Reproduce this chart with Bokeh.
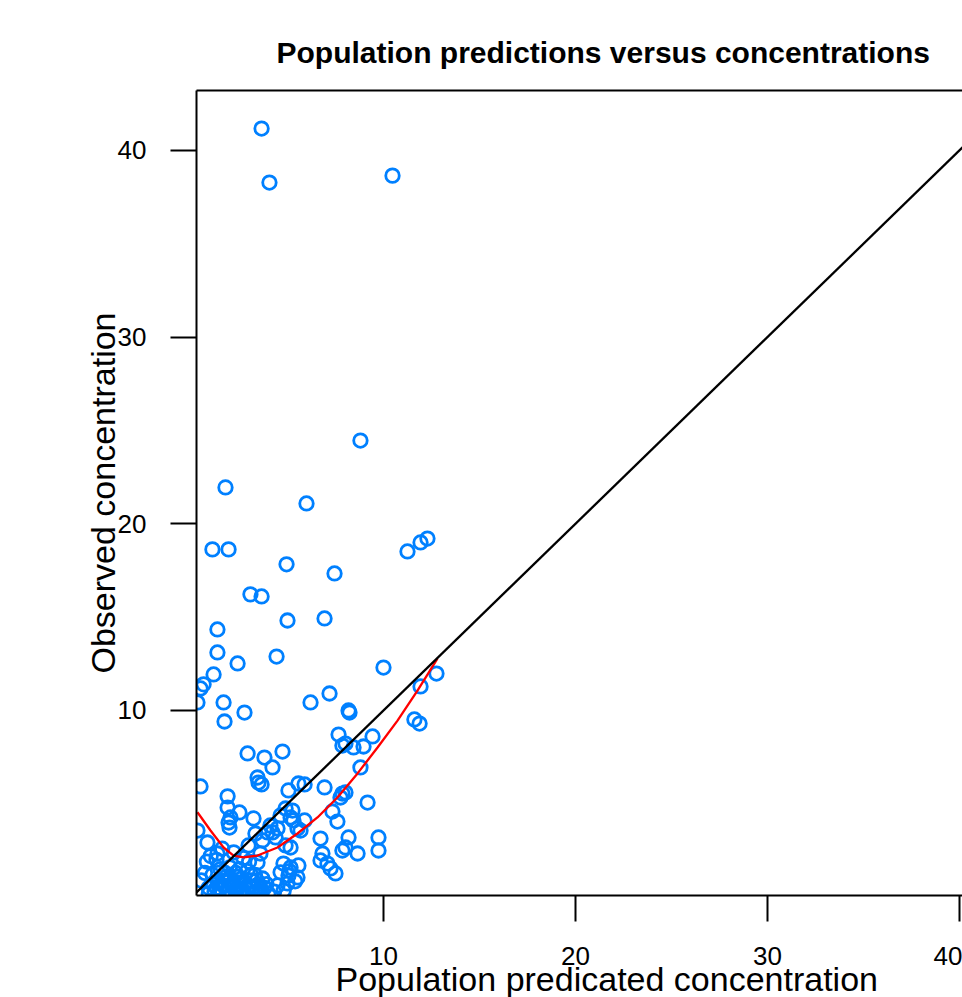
from bokeh.plotting import figure
from bokeh.models import Range1d, FixedTicker, LinearAxis, Slope, Title
from bokeh.embed import file_html
from bokeh.resources import INLINE

# Population predicted concentration (x) and observed concentration (y)
pred = [3.65, 4.06, 10.47, 8.80, 1.77, 5.99, 1.09, 1.93, 4.95, 7.45, 3.07, 3.65, 1.35, 5.00,
        6.93, 1.35, 2.40, 4.43, 1.15, 0.63, 0.47, 0.31, 1.67, 2.76, 1.72, 6.20, 7.19, 8.18,
        8.23, 10.00, 11.25, 11.93, 12.29, 11.93, 12.76, 11.61, 11.88,
        7.66, 7.86, 8.02, 8.44, 8.96, 9.43, 8.80, 2.92, 3.80, 4.22, 4.74, 3.44, 3.49, 3.65,
        0.47, 1.88, 2.50, 2.03, 1.93, 1.98, 3.23, 5.05, 5.57, 6.93, 7.86, 8.02, 7.76, 9.17,
        7.34, 7.60, 5.26, 4.90, 4.64, 5.16, 5.31, 5.52, 4.48, 4.22, 4.11, 3.33, 0.83, 0.31,
        1.35, 3.59, 6.72, 6.82, 6.72, 7.08, 7.24, 7.50, 8.18, 8.02, 7.86, 8.65, 9.74, 9.74,
        5.57, 3.96, 4.38, 3.70, 2.97, 4.90, 5.16, 5.68, 5.89, 5.89, 1.88,
        4.79, 5.16, 4.64, 5.05, 5.52, 4.48, 5.00,
        0.50, 0.70, 0.90, 1.10, 1.20, 1.40, 1.50, 1.60, 1.70, 1.80, 1.90, 2.00, 2.10, 2.20,
        2.30, 2.40, 2.50, 2.60, 2.70, 2.80, 2.90, 3.00, 3.10, 3.20, 3.30, 3.40, 3.50, 3.60,
        3.70, 3.80, 4.00, 1.30, 1.00, 2.20, 2.70, 3.00, 1.60, 0.80, 3.44,
        0.90, 1.30, 1.60, 1.90, 2.20, 2.40, 2.60, 2.80, 3.00, 3.20, 3.40, 3.60, 1.10, 2.00,
        2.90, 3.50, 1.40, 2.35, 3.90, 1.75, 2.50, 3.10, 4.30, 4.80, 5.10, 5.40]
obs = [41.17, 38.28, 38.65, 24.46, 21.95, 21.09, 18.63, 18.63, 17.83, 17.34, 16.22, 16.11,
       14.34, 14.82, 14.93, 13.11, 12.52, 12.89, 11.93, 11.40, 11.18, 10.43, 10.43, 9.89,
       9.41, 10.43, 10.91, 10.00, 9.89, 12.30, 18.52, 19.00, 19.21, 11.29, 11.98, 9.52, 9.30,
       8.71, 8.12, 8.23, 8.02, 8.07, 8.61, 6.95, 7.70, 7.48, 6.95, 7.80, 6.41, 6.14, 6.04,
       5.93, 5.40, 4.54, 4.27, 4.00, 3.73, 4.22, 5.72, 6.09, 5.88, 5.55, 5.61, 5.34, 5.07,
       4.59, 4.05, 4.64, 4.75, 4.38, 4.27, 4.11, 3.68, 3.68, 3.47, 3.84, 3.41, 2.93, 3.57,
       2.34, 2.34, 3.14, 2.34, 1.97, 1.80, 1.54, 1.27, 3.20, 2.66, 2.50, 2.34, 3.20, 2.50,
       1.70, 3.47, 3.20, 3.04, 2.77, 2.77, 2.66, 3.57, 4.11, 6.04, 4.80,
       1.80, 1.59, 1.33, 1.16, 1.06, 0.63, 0.74,
       0.90, 1.30, 0.50, 1.20, 0.30, 0.80, 1.50, 0.20, 0.60, 1.10, 0.40, 1.60, 0.20, 0.80,
       1.30, 0.50, 0.15, 1.00, 0.30, 0.70, 1.40, 0.20, 0.90, 0.50, 1.20, 0.30, 0.70, 0.20,
       1.00, 0.50, 0.20, 2.00, 2.20, 2.40, 2.10, 1.90, 2.60, 1.90, 1.86,
       0.20, 0.50, 0.90, 0.25, 0.55, 1.10, 0.35, 0.10, 0.60, 0.15, 0.90, 0.45, 0.70, 0.90,
       0.40, 0.15, 0.15, 0.20, 0.70, 1.30, 1.50, 1.20, 0.30, 0.35, 1.40, 0.85]

# Smooth (loess) curve
loess_x = [0.31, 0.99, 1.67, 2.19, 2.71, 3.44, 4.48, 5.52, 6.56, 7.60, 8.65, 9.69, 10.73, 11.77, 12.81]
loess_y = [4.55, 3.57, 2.66, 2.23, 2.13, 2.23, 2.66, 3.41, 4.27, 5.34, 6.63, 8.02, 9.46, 11.07, 12.78]

tick_values = [10, 20, 30, 40]

FONT = "Liberation Sans"

p = figure(width=962, height=997, output_backend="svg", toolbar_location=None, title=None,
           x_range=Range1d(0.26, 40.16), y_range=Range1d(0.09, 43.21),
           min_border_left=196, min_border_right=0, min_border_top=90, min_border_bottom=102)
p.outline_line_color = None
p.grid.visible = False
p.background_fill_color = "white"
p.border_fill_color = "white"

for ax in (p.xaxis[0], p.yaxis[0]):
    ax.ticker = FixedTicker(ticks=tick_values)
    ax.axis_line_width = 2
    ax.axis_line_color = "black"
    ax.major_tick_out = 26
    ax.major_tick_in = 0
    ax.minor_tick_out = 0
    ax.minor_tick_in = 0
    ax.major_tick_line_width = 2
    ax.major_tick_line_color = "black"
    ax.major_label_text_font = FONT
    ax.major_label_text_font_size = "26px"
    ax.major_label_text_color = "black"
p.xaxis[0].major_label_standoff = 25
p.yaxis[0].major_label_standoff = 24

p.yaxis[0].axis_label = "Observed concentration"
p.yaxis[0].axis_label_text_font = FONT
p.yaxis[0].axis_label_text_font_size = "34px"
p.yaxis[0].axis_label_text_font_style = "normal"
p.yaxis[0].axis_label_text_color = "black"
p.yaxis[0].axis_label_standoff = -7

top_axis = LinearAxis(ticker=FixedTicker(ticks=[]), axis_line_width=2, axis_line_color="black",
                      major_tick_out=0, major_tick_in=0, minor_tick_out=0, minor_tick_in=0,
                      major_label_text_font_size="0px")
p.add_layout(top_axis, "above")

main_title = Title(text="Population predictions versus concentrations", align="left", offset=80,
                   text_font=FONT, text_font_size="30px", text_font_style="bold",
                   text_color="black", standoff=44)
p.add_layout(main_title, "above")

x_title = Title(text="Population predicated concentration", align="left", offset=139,
                text_font=FONT, text_font_size="34px", text_font_style="normal",
                text_color="black", standoff=-19)
p.add_layout(x_title, "below")

p.scatter(pred, obs, marker="circle", size=13.5, fill_color=None,
          line_color="#0080ff", line_width=2.8)
p.add_layout(Slope(gradient=1, y_intercept=0, line_color="black", line_width=2.3))
p.line(loess_x, loess_y, line_color="red", line_width=2.3)

open("out.html", "w").write(file_html(p, INLINE))
